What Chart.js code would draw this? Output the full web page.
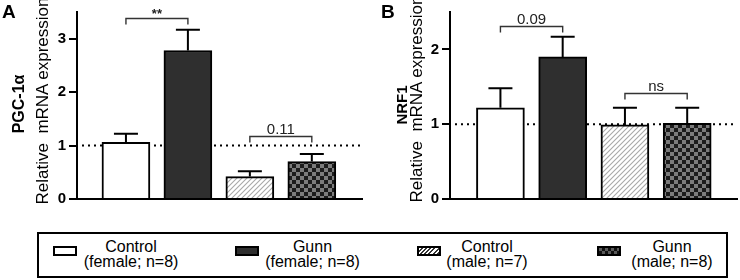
<!DOCTYPE html>
<html>
<head>
<meta charset="utf-8">
<script src="https://cdn.jsdelivr.net/npm/chart.js@4/dist/chart.umd.min.js"></script>
<style>
  html, body { margin: 0; padding: 0; background: #fff; }
  body { width: 740px; height: 280px; position: relative; overflow: hidden; font-family: "Liberation Sans", Arial, sans-serif; color: #000; }
  canvas { position: absolute; top: 0; }
  .rot { position: absolute; white-space: nowrap; line-height: 1; transform: translate(-50%, -50%) rotate(-90deg); }
  .letter { position: absolute; font-weight: bold; font-size: 19px; line-height: 1; }
  #legend { position: absolute; left: 37px; top: 232px; width: 691px; height: 46px; box-sizing: border-box; border: 2px solid #000; }
  .sw { position: absolute; width: 24px; height: 10px; box-sizing: border-box; border: 2px solid #000; }
  .lt { position: absolute; font-size: 16px; line-height: 15px; text-align: center; white-space: nowrap; transform: translateX(-50%); }
</style>
</head>
<body>
<canvas id="cA" width="370" height="215" style="left:0px"></canvas>
<canvas id="cB" width="370" height="215" style="left:370px"></canvas>

<div class="letter" style="left:2px; top:2px">A</div>
<div class="letter" style="left:381px; top:2px">B</div>

<div class="rot" style="left:19px; top:104px; font-size:16px; font-weight:bold">PGC-1α</div>
<div class="rot" style="left:41.5px; top:101px; font-size:17px">Relative&nbsp; mRNA expression</div>
<div class="rot" style="left:401px; top:105px; font-size:15px; font-weight:bold">NRF1</div>
<div class="rot" style="left:416px; top:99px; font-size:17px">Relative&nbsp; mRNA expression</div>

<div id="legend"></div>

<script>
// ---------------- data ----------------
const groupNames  = ['Control', 'Gunn', 'Control', 'Gunn'];
const groupDetail = ['(female; n=8)', '(female; n=8)', '(male; n=7)', '(male; n=8)'];
const categories  = [0, 1, 2, 3];           // bar positions (group index)

const pgcMean = [1.06, 2.78, 0.42, 0.70];
const pgcErr  = [0.16, 0.39, 0.10, 0.14];
const pgcMax  = 3.5;
const pgcBrackets = [
  { from: 0, to: 1, y: 3.38, label: '**' },
  { from: 2, to: 3, y: 1.18, label: '0.11' }
];

const nrfMean = [1.22, 1.90, 0.99, 1.01];
const nrfErr  = [0.26, 0.27, 0.23, 0.21];
const nrfMax  = 2.5;
const nrfBrackets = [
  { from: 0, to: 1, y: 2.31, label: '0.09' },
  { from: 2, to: 3, y: 1.42, label: 'ns' }
];

const tickStep = 0.5;
const refValue = 1;

// ---------------- styling ----------------
const FONT = '"Liberation Sans", Arial, sans-serif';
Chart.defaults.font.family = FONT;
Chart.defaults.color = '#000';

function hatchPattern(ctx) {
  const c = document.createElement('canvas'); c.width = 5; c.height = 5;
  const g = c.getContext('2d');
  g.fillStyle = '#fff'; g.fillRect(0, 0, 5, 5);
  g.strokeStyle = '#a8a8a8'; g.lineWidth = 1.1;
  g.beginPath();
  g.moveTo(-1, 6); g.lineTo(6, -1);
  g.moveTo(-1, 1); g.lineTo(1, -1);
  g.moveTo(4, 6); g.lineTo(6, 4);
  g.stroke();
  return ctx.createPattern(c, 'repeat');
}
function checkerPattern(ctx) {
  const c = document.createElement('canvas'); c.width = 8; c.height = 8;
  const g = c.getContext('2d');
  g.fillStyle = '#1c1c1c'; g.fillRect(0, 0, 8, 8);
  g.fillStyle = '#7c7c7c'; g.fillRect(4, 0, 4, 4); g.fillRect(0, 4, 4, 4);
  return ctx.createPattern(c, 'repeat');
}

function refLinePlugin() {
  return {
    id: 'refLine',
    beforeDatasetsDraw(chart) {
      const { ctx, chartArea, scales } = chart;
      const y = scales.y.getPixelForValue(refValue);
      ctx.save();
      ctx.strokeStyle = '#000'; ctx.lineWidth = 2; ctx.setLineDash([2, 4]);
      ctx.beginPath(); ctx.moveTo(chartArea.left + 5, y); ctx.lineTo(chartArea.right - 2, y); ctx.stroke();
      ctx.restore();
    }
  };
}
function errorBarPlugin(means, errs) {
  return {
    id: 'errBars',
    afterDatasetsDraw(chart) {
      const { ctx, scales } = chart;
      ctx.save();
      ctx.strokeStyle = '#000'; ctx.lineWidth = 2;
      means.forEach((m, i) => {
        const x = scales.x.getPixelForValue(categories[i]);
        const y1 = scales.y.getPixelForValue(m);
        const y2 = scales.y.getPixelForValue(m + errs[i]);
        ctx.beginPath();
        ctx.moveTo(x, y1); ctx.lineTo(x, y2);
        ctx.moveTo(x - 12, y2); ctx.lineTo(x + 12, y2);
        ctx.stroke();
      });
      ctx.restore();
    }
  };
}
function bracketPlugin(brackets) {
  return {
    id: 'brackets',
    afterDraw(chart) {
      const { ctx, scales } = chart;
      ctx.save();
      brackets.forEach(b => {
        const x1 = scales.x.getPixelForValue(categories[b.from]);
        const x2 = scales.x.getPixelForValue(categories[b.to]);
        const y = Math.round(scales.y.getPixelForValue(b.y)) + 0.5;
        ctx.strokeStyle = '#333'; ctx.lineWidth = 1.4;
        ctx.beginPath();
        ctx.moveTo(x1, y + 6); ctx.lineTo(x1, y); ctx.lineTo(x2, y); ctx.lineTo(x2, y + 6);
        ctx.stroke();
        ctx.fillStyle = '#222';
        ctx.font = (b.label === '**' ? 'bold 13px ' : '15px ') + FONT;
        ctx.textAlign = 'center'; ctx.textBaseline = 'alphabetic';
        ctx.fillText(b.label, (x1 + x2) / 2, y - (b.label === '**' ? 1 : 3));
      });
      ctx.restore();
    }
  };
}

function makeChart(id, means, errs, yMax, brackets, xMin, xMax, yWidth, padRight) {
  const canvas = document.getElementById(id);
  const ctx = canvas.getContext('2d');
  const fills = ['#ffffff', '#2f2f2f', hatchPattern(ctx), checkerPattern(ctx)];
  return new Chart(ctx, {
    type: 'bar',
    data: {
      datasets: [{
        data: means.map((v, i) => ({ x: categories[i], y: v })),
        backgroundColor: fills,
        borderColor: '#000',
        borderWidth: 2,
        barThickness: 48
      }]
    },
    options: {
      responsive: false,
      animation: false,
      devicePixelRatio: 1,
      layout: { padding: { top: 7, right: padRight, left: 0, bottom: 0 } },
      plugins: { legend: { display: false }, tooltip: { enabled: false } },
      scales: {
        x: {
          type: 'linear', min: xMin, max: xMax, offset: false,
          grid: { display: false, offset: false },
          ticks: { display: false },
          border: { display: true, color: '#000', width: 2 },
          afterFit: s => { s.height = 16; }
        },
        y: {
          min: 0, max: yMax,
          ticks: {
            stepSize: tickStep,
            callback: v => (Number.isInteger(v) ? String(v) : null),
            font: { size: 15, weight: 'bold', family: FONT },
            color: '#000', padding: 3
          },
          grid: { drawOnChartArea: false, drawTicks: true, tickLength: 8, color: '#000', lineWidth: 2 },
          border: { display: true, color: '#000', width: 2 },
          afterFit: s => { s.width = yWidth; }
        }
      }
    },
    plugins: [refLinePlugin(), errorBarPlugin(means, errs), bracketPlugin(brackets)]
  });
}

makeChart('cA', pgcMean, pgcErr, pgcMax, pgcBrackets, -0.79, 3.81, 77, 8);
makeChart('cB', nrfMean, nrfErr, nrfMax, nrfBrackets, -0.81, 3.80, 80, 3);

// ---------------- legend ----------------
const legend = document.getElementById('legend');
const swatchLeft = [53, 235, 417, 597];
const textCenter = [131, 312.5, 487, 672];
const swatchBg = [
  '#fff',
  '#2f2f2f',
  'repeating-linear-gradient(135deg, #fff 0 1.6px, #333 1.6px 3px)',
  'repeating-conic-gradient(#111 0 25%, #5a5a5a 0 50%) 0 0 / 6px 6px'
];
groupNames.forEach((name, i) => {
  const sw = document.createElement('div');
  sw.className = 'sw';
  sw.style.left = (swatchLeft[i] - 39) + 'px';
  sw.style.top = (246 - 234) + 'px';
  sw.style.background = swatchBg[i];
  legend.appendChild(sw);
  const t = document.createElement('div');
  t.className = 'lt';
  t.style.left = (textCenter[i] - 39) + 'px';
  t.style.top = (238.5 - 234) + 'px';
  t.innerHTML = name + '<br>' + groupDetail[i];
  legend.appendChild(t);
});
</script>
</body>
</html>
